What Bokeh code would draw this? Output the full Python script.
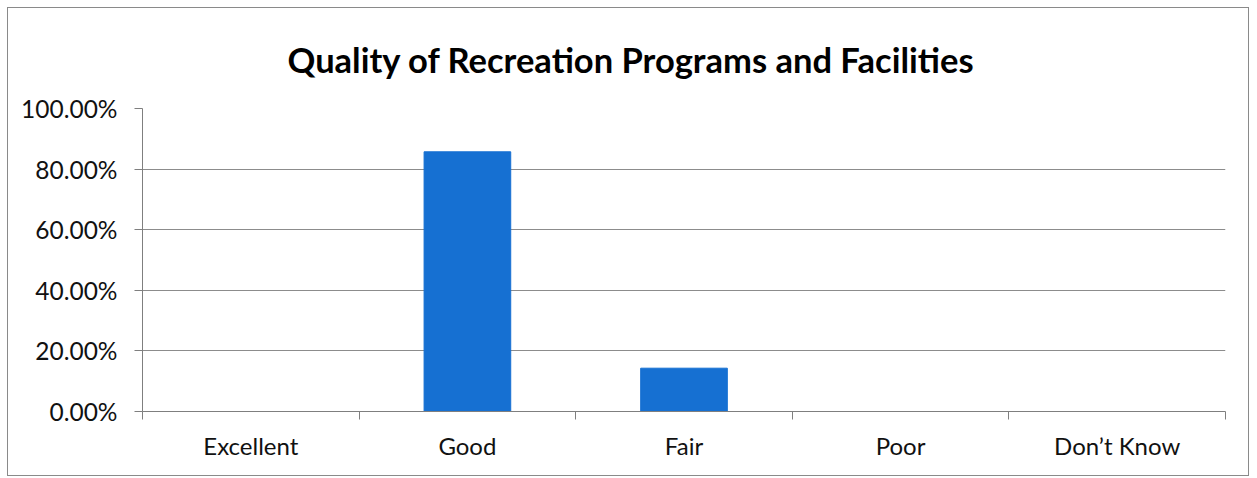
from bokeh.plotting import figure
from bokeh.models import FixedTicker, NumeralTickFormatter, Range1d, Title
from bokeh.embed import file_html
from bokeh.resources import INLINE

categories = ["Excellent", "Good", "Fair", "Poor", "Don\u2019t Know"]
values = [0.0, 0.8571, 0.1429, 0.0, 0.0]
y_ticks = [0.0, 0.2, 0.4, 0.6, 0.8, 1.0]
title_text = "Quality of Recreation Programs and Facilities"

FONT = "Lato"
positions = [i + 0.5 for i in range(len(categories))]

p = figure(width=1242, height=469, output_backend="svg", toolbar_location=None,
           x_range=Range1d(0, len(categories)), y_range=Range1d(0, 1.0),
           min_border_left=134, min_border_right=25, min_border_top=100, min_border_bottom=66,
           margin=(7, 0, 0, 7),
           styles={"border": "1.5px solid #8a8a8a"})

p.title = Title(text=title_text, align="left",
                text_font=FONT, text_font_size="34.5px", text_font_style="bold",
                text_color="#000000", offset=145, standoff=57)

p.vbar(x=positions, top=values, width=0.4, bottom=0,
       fill_color="#1670D2", line_color="#1670D2")

# x axis: labels at centres, ticks at category boundaries
xt = FixedTicker(ticks=positions, minor_ticks=list(range(len(categories) + 1)))
p.xaxis.ticker = xt
p.xaxis.major_label_overrides = {pos: c for pos, c in zip(positions, categories)}
p.xaxis.major_tick_out = 0
p.xaxis.major_tick_in = 0
p.xaxis.minor_tick_out = 8
p.xaxis.minor_tick_in = 0
p.xaxis.minor_tick_line_color = "#7f7f7f"
p.xaxis.axis_line_color = "#7f7f7f"
p.xaxis.major_label_text_font = FONT
p.xaxis.major_label_text_font_size = "24px"
p.xaxis.major_label_text_color = "#111111"
p.xaxis.major_label_standoff = 11

p.yaxis.ticker = FixedTicker(ticks=y_ticks)
p.yaxis.formatter = NumeralTickFormatter(format="0.00%")
p.yaxis.major_tick_out = 8
p.yaxis.major_tick_in = 0
p.yaxis.minor_tick_line_color = None
p.yaxis.major_tick_line_color = "#7f7f7f"
p.yaxis.axis_line_color = "#7f7f7f"
p.yaxis.major_label_text_font = FONT
p.yaxis.major_label_text_font_size = "24.5px"
p.yaxis.major_label_text_color = "#111111"
p.yaxis.major_label_standoff = 17

p.xgrid.grid_line_color = None
p.ygrid.ticker = FixedTicker(ticks=y_ticks)
p.ygrid.grid_line_color = "#8c8c8c"
p.ygrid.grid_line_width = 1
p.outline_line_color = None

open("out.html", "w").write(file_html(p, INLINE))
